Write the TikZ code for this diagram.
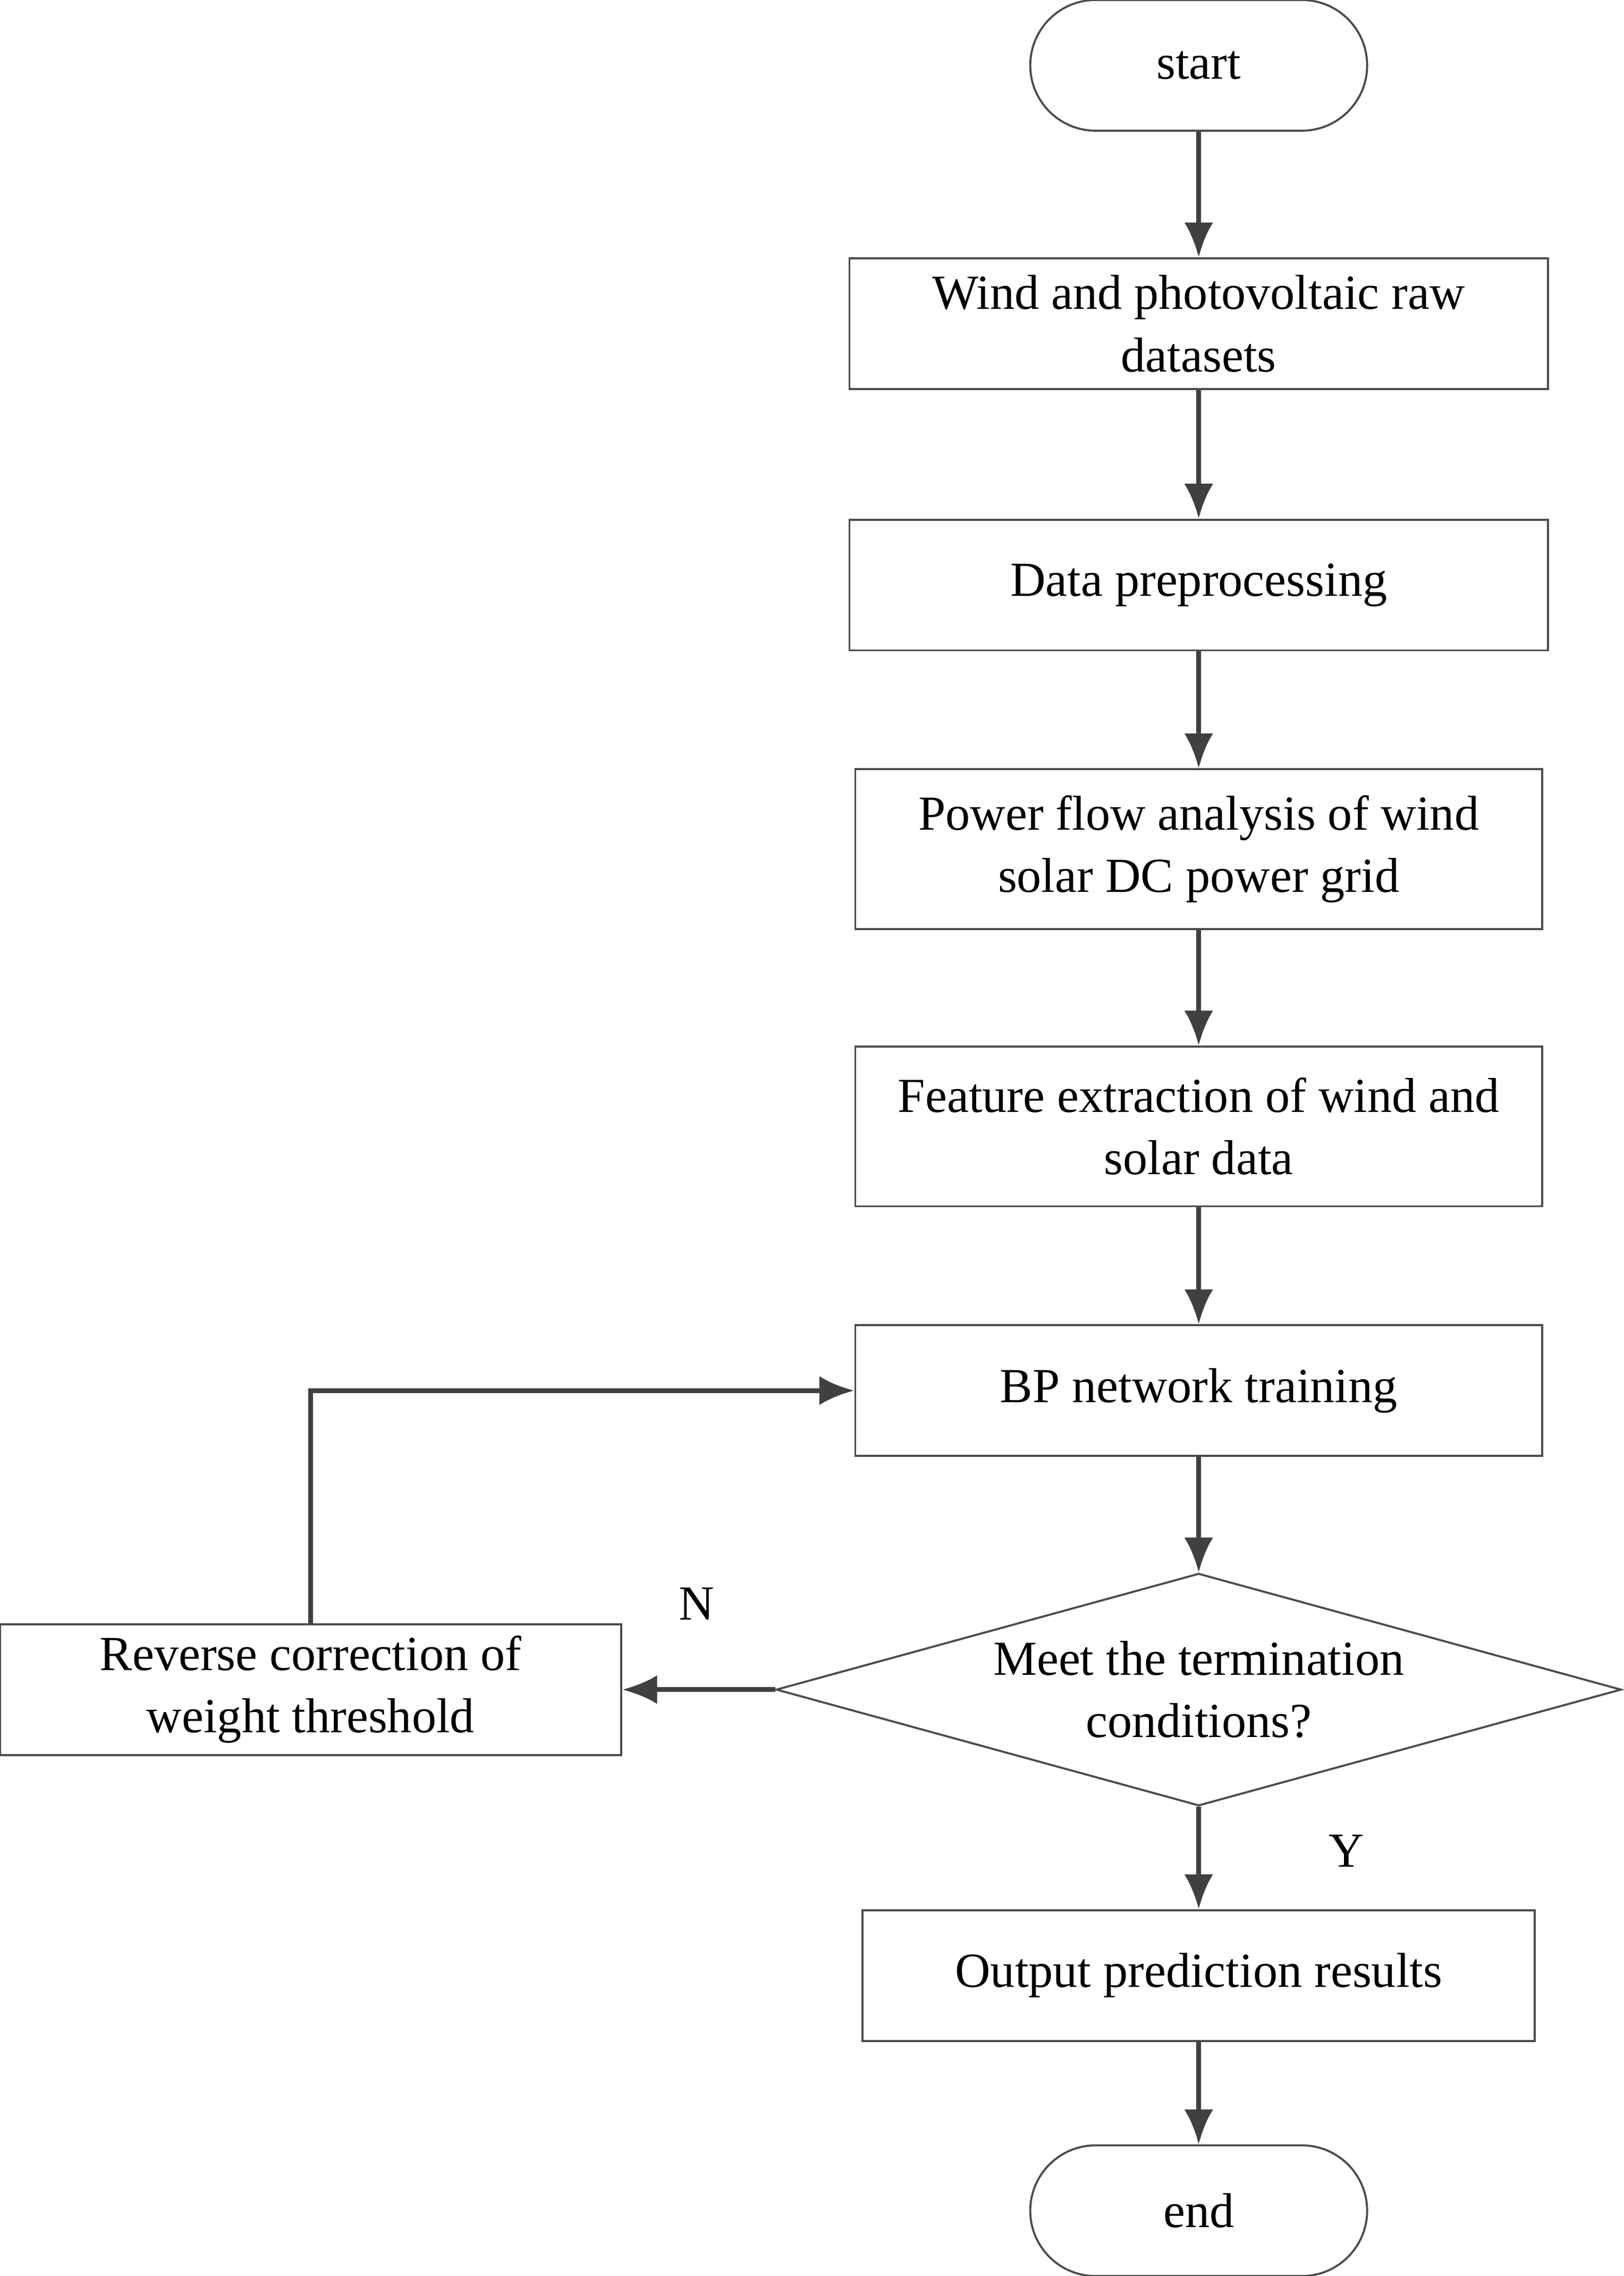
\documentclass[tikz,border=0pt]{standalone}
\usepackage{fontspec}
\setmainfont{Liberation Serif}
\usetikzlibrary{positioning}
\usetikzlibrary{shapes.geometric}
\usetikzlibrary{arrows.meta}
\tikzset{
  box/.style={draw=black!70, thin, minimum height=0.9cm, align=center, inner sep=0pt},
  term/.style={draw=black!70, thin, rounded corners=0.45cm, minimum width=2.32cm, minimum height=0.9cm},
  flow/.style={draw=black!75, line width=0.9pt, -{Latex[length=2.4mm,width=2mm]}}
}
\begin{document}
\begin{tikzpicture}[x=0.01cm,y=-0.01cm,font=\fontsize{9.6}{12.2}\selectfont]
\useasboundingbox (0,0) rectangle (1119,1568);

\node[term] (start) at (826,45) {start};
\node[box, minimum width=4.81cm] (raw) at (826,223) {Wind and photovoltaic raw\\datasets};
\node[box, minimum width=4.81cm] (pre) at (826,403) {Data preprocessing};
\node[box, minimum width=4.73cm, minimum height=1.1cm] (flowan) at (826,585) {Power flow analysis of wind\\solar DC power grid};
\node[box, minimum width=4.73cm, minimum height=1.1cm] (feat) at (826,776) {Feature extraction of wind and\\solar data};
\node[box, minimum width=4.73cm] (train) at (826,958) {BP network training};
\node[diamond, draw=black!70, thin, aspect=3.64, minimum width=5.82cm, minimum height=1.6cm, inner sep=0pt, align=center] (meet) at (826,1164) {Meet the termination\\conditions?};
\node[box, minimum width=4.28cm] (rev) at (214,1164) {Reverse correction of\\weight threshold};
\node[box, minimum width=4.63cm] (out) at (826,1361) {Output prediction results};
\node[term] (end) at (826,1523) {end};

\node (n) at (480,1105) {N};
\node (y) at (928,1275) {Y};

% main chain
\draw[flow] (start) -- (raw);
\draw[flow] (raw) -- (pre);
\draw[flow] (pre) -- (flowan);
\draw[flow] (flowan) -- (feat);
\draw[flow] (feat) -- (train);
\draw[flow] (train) -- (meet);
\draw[flow] (meet) -- (out);
\draw[flow] (out) -- (end);

% loop back
\draw[flow] (meet.west) -- (rev.east);
\draw[flow] (rev.north) |- (train.west);
\end{tikzpicture}
\end{document}
